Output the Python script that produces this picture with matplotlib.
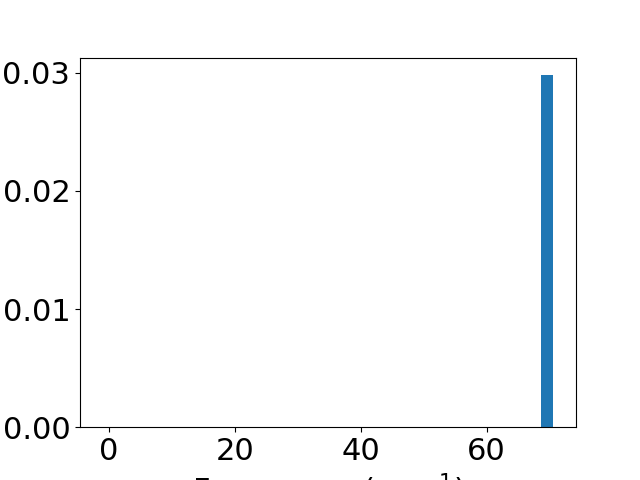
import matplotlib
matplotlib.use("Agg")
import matplotlib.pyplot as plt

# Histogram bins (left edges), bin width and density heights
bin_lefts = [-1.0, 68.7]
bin_width = 1.9
density = [0.0, 0.0298]
xlabel = "Frequency (cm$^{-1}$)"

fig, ax = plt.subplots(figsize=(6.4, 4.8), dpi=100)
ax.bar(bin_lefts, density, width=bin_width, align="edge", color="#1f77b4")
ax.set_xlabel(xlabel, fontsize=22)
ax.tick_params(labelsize=22)
fig.savefig("out.png")
